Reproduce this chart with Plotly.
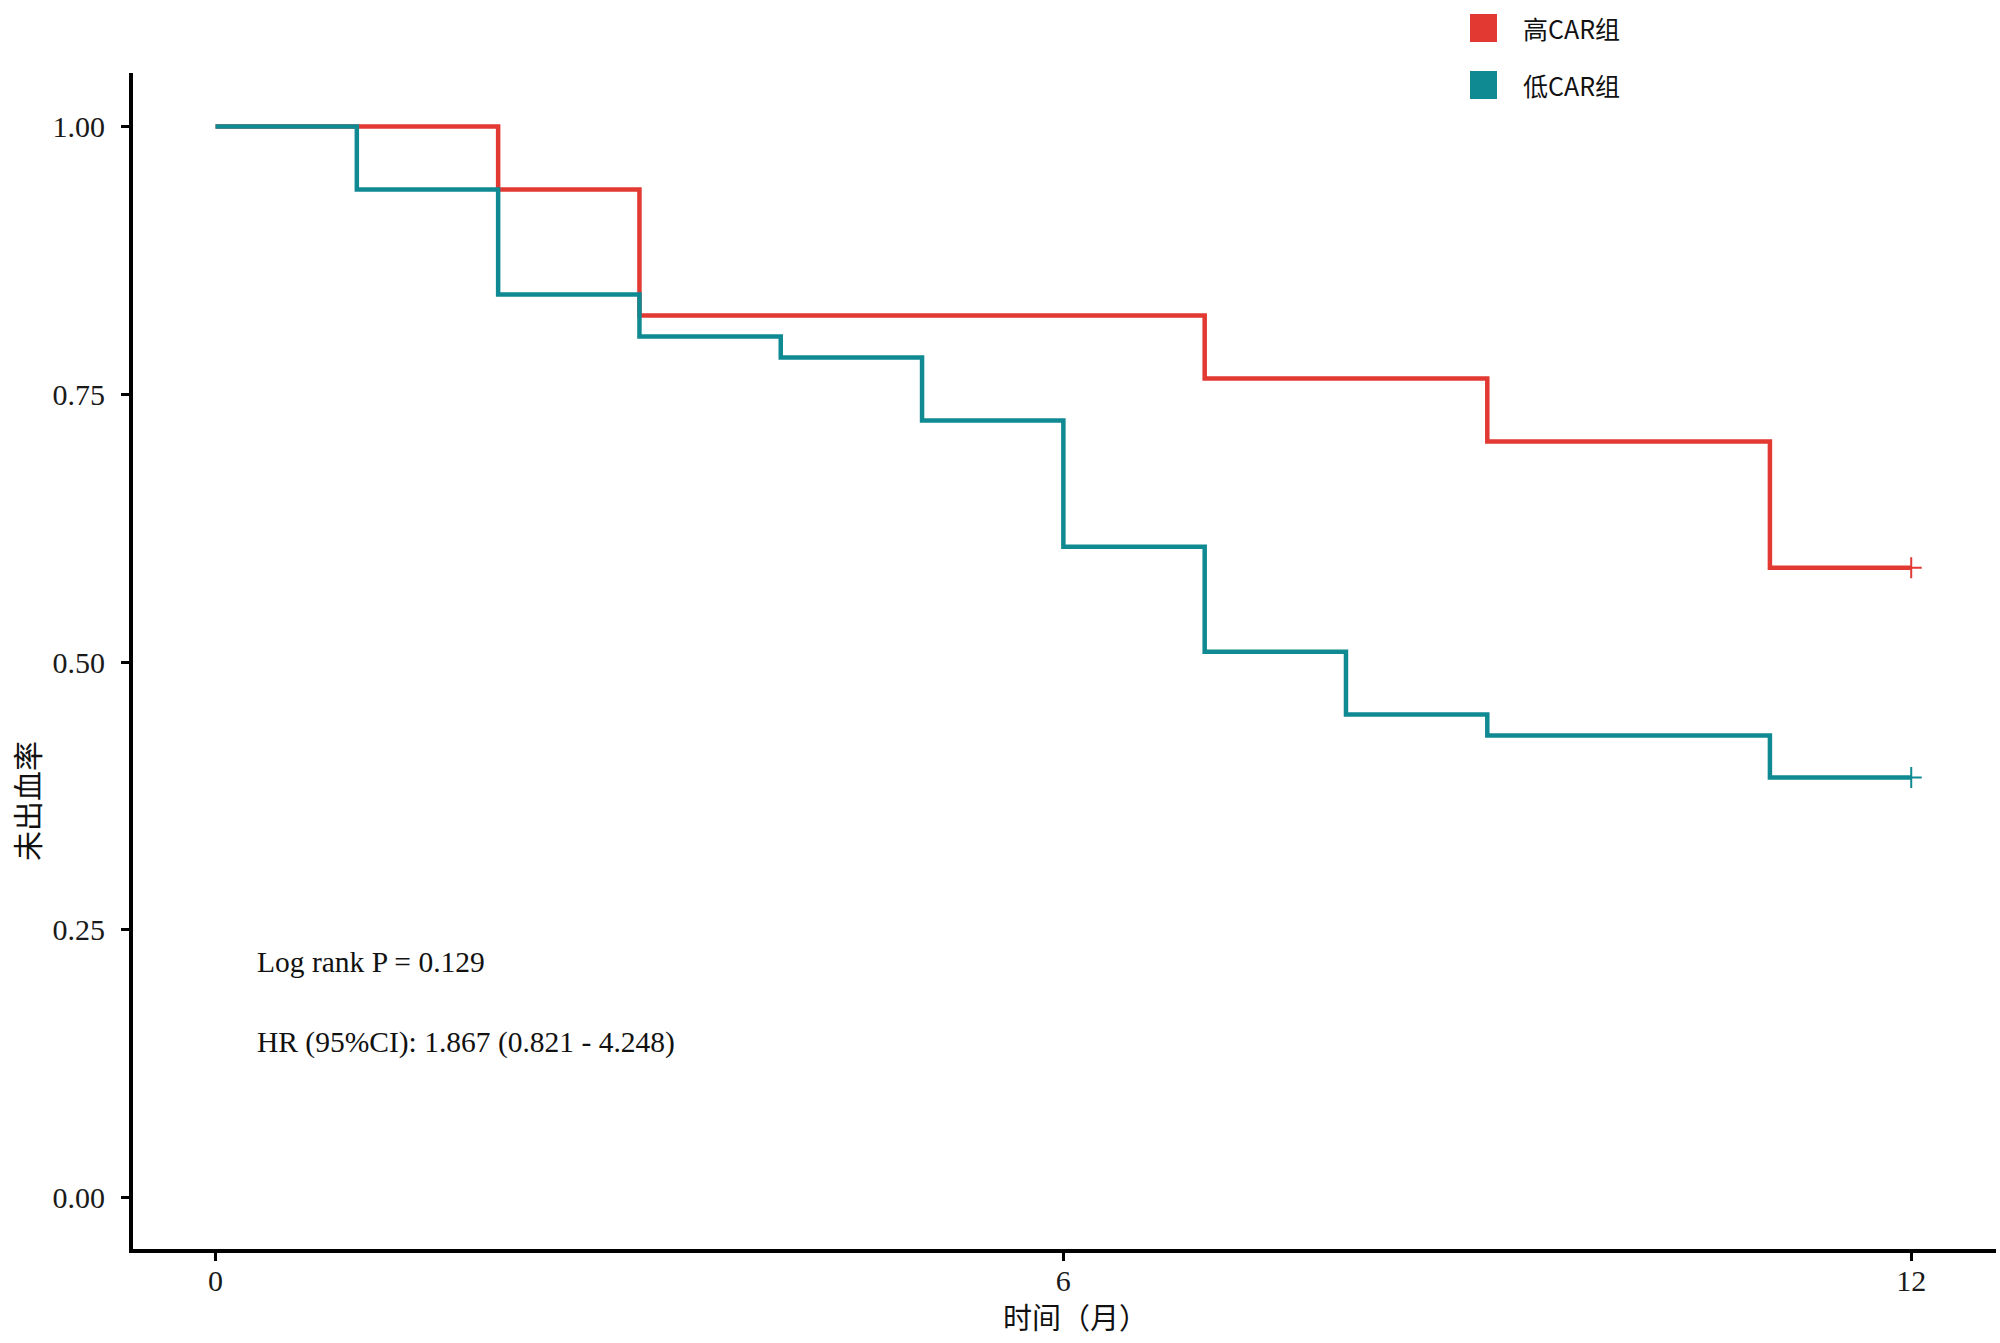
import plotly.graph_objects as go

# ---- data ----
group_names = ["高CAR组", "低CAR组"]
group_colors = ["#E23A33", "#0F8A92"]

high_time = [0, 2, 3, 7, 9, 11, 12]
high_surv = [1.0, 0.9412, 0.8235, 0.7647, 0.7059, 0.5882, 0.5882]

low_time = [0, 1, 2, 3, 4, 5, 6, 7, 8, 9, 11, 12]
low_surv = [1.0, 0.9412, 0.8431, 0.8039, 0.7843, 0.7255, 0.6078, 0.5098, 0.4510, 0.4314, 0.3922, 0.3922]

censor_time = [12, 12]
censor_surv = [0.5882, 0.3922]

x_ticks = [0, 6, 12]
y_ticks = [0.0, 0.25, 0.50, 0.75, 1.00]
y_ticklabels = ["0.00", "0.25", "0.50", "0.75", "1.00"]

stats_lines = ["Log rank P = 0.129", "HR (95%CI): 1.867 (0.821 - 4.248)"]
x_title = "时间（月）"
y_title = "未出血率"

# ---- layout geometry (pixels) ----
W, H = 2000, 1343
ML, MR, MT, MB = 133, 4, 73, 94
PW, PH = W - ML - MR, H - MT - MB


def px(x):
    return (x - ML) / PW


def py(y):
    return (H - MB - y) / PH


serif = "Liberation Serif, Times New Roman, serif"
cjk = "Noto Sans CJK SC, sans-serif"

fig = go.Figure()
series = [(high_time, high_surv), (low_time, low_surv)]
for (t, s), name, col in zip(series, group_names, group_colors):
    fig.add_trace(go.Scatter(x=t, y=s, mode="lines", line=dict(color=col, width=4.5, shape="hv"),
                             name=name, showlegend=False, hoverinfo="x+y"))

fig.add_trace(go.Scatter(x=censor_time, y=censor_surv, mode="markers",
                         marker=dict(symbol="cross-thin", size=15, color=group_colors,
                                     line=dict(color=group_colors, width=2)),
                         showlegend=False, hoverinfo="skip"))

fig.update_xaxes(range=[-0.584, 12.6], tickvals=x_ticks, ticktext=[str(v) for v in x_ticks],
                 showline=True, linecolor="black", linewidth=4, ticks="outside", ticklen=8,
                 tickwidth=3, tickcolor="black", showgrid=False, zeroline=False,
                 tickfont=dict(family=serif, size=30, color="#1a1a1a"), ticklabelstandoff=-6)
fig.update_yaxes(range=[-0.0479, 1.05], tickvals=y_ticks, ticktext=y_ticklabels,
                 showline=True, linecolor="black", linewidth=4, ticks="outside", ticklen=8,
                 tickwidth=3, tickcolor="black", showgrid=False, zeroline=False,
                 tickfont=dict(family=serif, size=30, color="#1a1a1a"), ticklabelstandoff=10)

annotations = []
for i, txt in enumerate(stats_lines):
    annotations.append(dict(x=px(255), y=py(962 + 80 * i), xref="paper", yref="paper", text=txt,
                            showarrow=False, xanchor="left", yanchor="middle",
                            font=dict(family=serif, size=29.5, color="#111")))
annotations.append(dict(x=px(1075), y=py(1316), xref="paper", yref="paper", text=x_title,
                        showarrow=False, xanchor="center", yanchor="middle",
                        font=dict(family=cjk, size=29, color="#111")))
annotations.append(dict(x=px(26), y=py(801), xref="paper", yref="paper", text=y_title,
                        showarrow=False, textangle=-90, xanchor="center", yanchor="middle",
                        font=dict(family=cjk, size=30, color="#111")))

shapes = []
for i, (name, col) in enumerate(zip(group_names, group_colors)):
    cy = 28 + 57 * i
    shapes.append(dict(type="rect", xref="paper", yref="paper", x0=px(1470), x1=px(1497),
                       y0=py(cy + 14), y1=py(cy - 14), fillcolor=col, line=dict(width=0)))
    annotations.append(dict(x=px(1521), y=py(cy), xref="paper", yref="paper", text=name,
                            showarrow=False, xanchor="left", yanchor="middle",
                            font=dict(family=cjk, size=25, color="#111")))

fig.update_layout(width=W, height=H, autosize=False,
                  margin=dict(l=ML, r=MR, t=MT, b=MB),
                  plot_bgcolor="white", paper_bgcolor="white",
                  annotations=annotations, shapes=shapes, showlegend=False)

fig.write_html("out.html", config={"displayModeBar": False},
               post_script="document.body.style.margin='0';")
